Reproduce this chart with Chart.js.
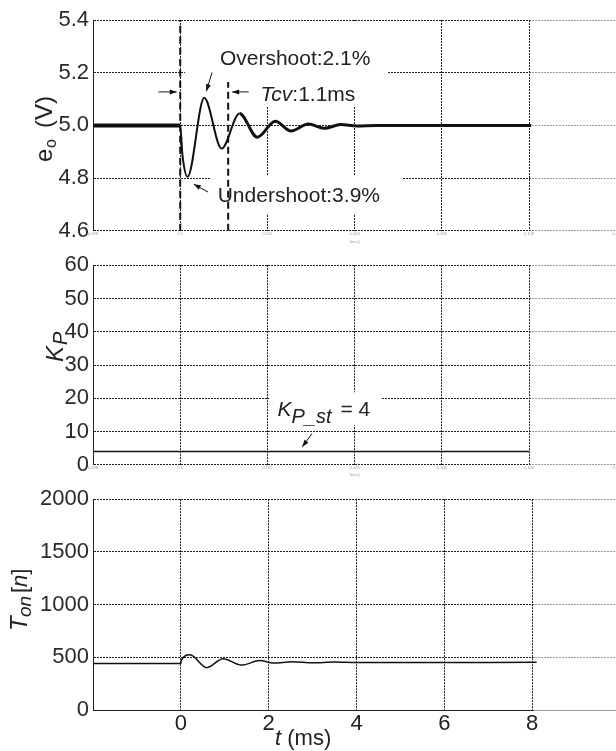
<!DOCTYPE html>
<html>
<head>
<meta charset="utf-8">
<script src="https://cdn.jsdelivr.net/npm/chart.js@4"></script>
<style>
  body { margin: 0; background: #fff; overflow: hidden; width: 616px; height: 751px; position: relative; }
  canvas { position: absolute; left: 0; }
</style>
</head>
<body>
<canvas id="eoChart" width="621" height="248" style="top:0"></canvas>
<canvas id="kpChart" width="621" height="234" style="top:248px"></canvas>
<canvas id="tonChart" width="621" height="269" style="top:482px"></canvas>
<script>
// time in ms, load step at t = 0
var tEo = [-2, 0, 0.05, 0.17, 0.55, 0.95, 1.36, 1.77, 2.18, 2.54, 2.94, 3.3, 3.68, 4.05, 4.5, 8.05];
var eoVals = [5.0, 5.0, 4.89, 4.805, 5.105, 4.912, 5.045, 4.955, 5.016, 4.979, 5.005, 4.989, 5.003, 4.998, 5.0, 5.0];

var tKp = [-2, 8];
var kpVals = [4, 4];

var tTon = [-2, 0, 0.01, 0.21, 0.59, 0.96, 1.38, 1.8, 2.1, 2.55, 3.0, 3.5, 4.0, 8.1];
var tonVals = [440, 440, 470, 524, 402, 487, 426, 469, 445, 458, 448, 455, 450, 452];

var xTicks = [-2, 0, 2, 4, 6, 8, 10];
var xTickLabels = ['', '0', '2', '4', '6', '8', ''];
var simTimeLabels = ['0.098', '0.1', '0.102', '0.104', '0.106', '0.108', '0.11'];
var eoTicks = [4.6, 4.8, 5.0, 5.2, 5.4];
var eoTickLabels = ['4.6', '4.8', '5.0', '5.2', '5.4'];
var kpTicks = [0, 10, 20, 30, 40, 50, 60];
var kpTickLabels = ['0', '10', '20', '30', '40', '50', '60'];
var tonTicks = [0, 500, 1000, 1500, 2000];
var tonTickLabels = ['0', '500', '1000', '1500', '2000'];

var F = '"Liberation Sans", Arial, Helvetica, sans-serif';
Chart.defaults.font.family = F;

function points(xs, ys) {
  return xs.map(function (x, i) { return { x: x, y: ys[i] }; });
}

function pt(chart, x, y) {
  return { x: chart.scales.x.getPixelForValue(x), y: chart.scales.y.getPixelForValue(y) };
}

function whiteBox(chart, x0, x1, y0, y1) {
  var a = pt(chart, x0, y0), b = pt(chart, x1, y1);
  chart.ctx.fillStyle = '#fff';
  chart.ctx.fillRect(Math.min(a.x, b.x), Math.min(a.y, b.y), Math.abs(b.x - a.x), Math.abs(b.y - a.y));
}

// lighter area right of the last sample (8 ms)
function fadeRight(chart, t) {
  var x = chart.scales.x.getPixelForValue(t) + 1.5;
  var a = chart.chartArea;
  chart.ctx.fillStyle = 'rgba(255,255,255,0.55)';
  chart.ctx.fillRect(x, a.top - 1, a.right - x + 2, a.bottom - a.top + 2);
}

function dashedV(chart, t, v0, v1) {
  var c = chart.ctx, a = pt(chart, t, v0), b = pt(chart, t, v1);
  c.save();
  c.strokeStyle = '#111';
  c.lineWidth = 2;
  c.setLineDash([7, 4]);
  c.beginPath();
  c.moveTo(a.x, a.y);
  c.lineTo(b.x, b.y);
  c.stroke();
  c.restore();
}

function arrow(chart, x0, y0, x1, y1) {
  var c = chart.ctx, a = pt(chart, x0, y0), b = pt(chart, x1, y1);
  var ang = Math.atan2(b.y - a.y, b.x - a.x);
  c.save();
  c.strokeStyle = '#111';
  c.fillStyle = '#111';
  c.lineWidth = 1;
  c.beginPath();
  c.moveTo(a.x, a.y);
  c.lineTo(b.x, b.y);
  c.stroke();
  c.beginPath();
  c.moveTo(b.x, b.y);
  c.lineTo(b.x - 7 * Math.cos(ang) + 2.5 * Math.sin(ang), b.y - 7 * Math.sin(ang) - 2.5 * Math.cos(ang));
  c.lineTo(b.x - 7 * Math.cos(ang) - 2.5 * Math.sin(ang), b.y - 7 * Math.sin(ang) + 2.5 * Math.cos(ang));
  c.closePath();
  c.fill();
  c.restore();
}

function runText(c, x, y, parts) {
  parts.forEach(function (p) {
    c.font = p.font;
    var px = p.at !== undefined ? p.at : x;
    c.fillText(p.text, px, y + (p.dy || 0));
    x = px + c.measureText(p.text).width;
  });
}

function rotatedTitle(c, x, y, parts) {
  c.save();
  c.translate(x, y);
  c.rotate(-Math.PI / 2);
  c.fillStyle = '#222';
  c.textBaseline = 'alphabetic';
  c.textAlign = 'left';
  runText(c, 0, 0, parts);
  c.restore();
}

function panelOptions(yMin, yMax, yTicks, yLabels, xHeight, xLabels, xFont, padTop, xBorder, xTitle) {
  return {
    responsive: false,
    animation: false,
    devicePixelRatio: 1,
    layout: { autoPadding: false, padding: { top: padTop, left: 0, right: 0, bottom: 0 } },
    plugins: { legend: { display: false }, tooltip: { enabled: false } },
    scales: {
      x: {
        type: 'linear',
        min: -2,
        max: 10,
        afterBuildTicks: function (axis) { axis.ticks = xTicks.map(function (v) { return { value: v }; }); },
        afterFit: function (axis) { axis.height = xHeight; },
        grid: { color: '#222', lineWidth: 1, drawTicks: false },
        border: { display: xBorder, color: '#222', width: 1, dash: [2, 1] },
        title: { display: !!xTitle, text: xTitle || '', font: { size: 3 }, color: '#999', padding: 0 },
        ticks: {
          autoSkip: false, maxRotation: 0, padding: 1, font: xFont,
          color: xFont.size > 10 ? '#222' : '#999',
          callback: function (v, i) { return xLabels[i]; }
        }
      },
      y: {
        min: yMin,
        max: yMax,
        afterBuildTicks: function (axis) { axis.ticks = yTicks.map(function (v) { return { value: v }; }); },
        afterFit: function (axis) { axis.width = 93; },
        grid: { color: '#222', lineWidth: 1, drawTicks: false },
        border: { display: true, color: '#222', width: 1, dash: [2, 1] },
        ticks: { padding: 4, color: '#2a2a2a', font: { size: 22 }, callback: function (v, i) { return yLabels[i]; } }
      }
    }
  };
}

var eoNotes = {
  id: 'eoNotes',
  beforeDatasetsDraw: function (chart) {
    var c = chart.ctx;
    c.save();
    fadeRight(chart, 8);
    whiteBox(chart, 0.11, 4.75, 5.175, 5.396);
    whiteBox(chart, 1.57, 4.8, 5.071, 5.176);
    whiteBox(chart, 0.7, 5.09, 4.665, 4.81);
    dashedV(chart, 0, 4.6, 5.4);
    dashedV(chart, 1.1, 4.6, 5.165);
    c.restore();
  },
  afterDatasetsDraw: function (chart) {
    var c = chart.ctx;
    c.save();
    c.fillStyle = '#222';
    c.textBaseline = 'middle';
    var p = pt(chart, 0.91, 5.25);
    runText(c, p.x, p.y, [{ text: 'Overshoot:2.1%', font: '21px ' + F }]);
    p = pt(chart, 1.84, 5.115);
    runText(c, p.x, p.y, [{ text: 'Tcv', font: 'italic 21px ' + F }, { text: ':1.1ms', font: '21px ' + F }]);
    p = pt(chart, 0.86, 4.732);
    runText(c, p.x, p.y, [{ text: 'Undershoot:3.9%', font: '21px ' + F }]);
    c.restore();
    arrow(chart, 0.73, 5.201, 0.6, 5.13);
    arrow(chart, -0.5, 5.127, -0.08, 5.127);
    arrow(chart, 1.57, 5.127, 1.19, 5.127);
    arrow(chart, 0.64, 4.747, 0.31, 4.777);
  },
  afterDraw: function (chart) {
    rotatedTitle(chart.ctx, 52, 162, [
      { text: 'e', font: '24px ' + F },
      { text: 'o', font: '16px ' + F, dy: 4, at: 14 },
      { text: '(V)', font: '24px ' + F, at: 34 }
    ]);
  }
};

var kpNotes = {
  id: 'kpNotes',
  beforeDatasetsDraw: function (chart) {
    chart.ctx.save();
    fadeRight(chart, 8);
    whiteBox(chart, 2.04, 4.61, 11.9, 21.8);
    chart.ctx.restore();
  },
  afterDatasetsDraw: function (chart) {
    var c = chart.ctx;
    c.save();
    c.fillStyle = '#222';
    c.textBaseline = 'alphabetic';
    var p = pt(chart, 2.23, 14.7);
    runText(c, p.x, p.y, [
      { text: 'K', font: 'italic 21px ' + F },
      { text: 'P_st', font: 'italic 20px ' + F, dy: 7 },
      { text: '= 4', font: '21px ' + F, at: p.x + 63 }
    ]);
    c.restore();
    arrow(chart, 3.02, 9.34, 2.8, 5.4);
  },
  afterDraw: function (chart) {
    rotatedTitle(chart.ctx, 63, 114, [
      { text: 'K', font: 'italic 24px ' + F },
      { text: 'P', font: 'italic 20px ' + F, dy: 4, at: 17 }
    ]);
  }
};

var tonNotes = {
  id: 'tonNotes',
  beforeDatasetsDraw: function (chart) {
    chart.ctx.save();
    fadeRight(chart, 8);
    chart.ctx.restore();
  },
  afterDraw: function (chart) {
    var c = chart.ctx;
    rotatedTitle(c, 27, 149, [
      { text: 'T', font: 'italic 24px ' + F },
      { text: 'on', font: 'italic 19px ' + F, dy: 4, at: 14 },
      { text: '[', font: '22px ' + F, at: 38 },
      { text: 'n', font: 'italic 22px ' + F },
      { text: ']', font: '22px ' + F }
    ]);
    c.save();
    c.fillStyle = '#222';
    c.textBaseline = 'alphabetic';
    runText(c, 275, 263, [{ text: 't', font: 'italic 22px ' + F }, { text: ' (ms)', font: '22px ' + F }]);
    c.restore();
  }
};

var tinyFont = { size: 4 };

var ctx = document.getElementById('eoChart').getContext('2d');
var eoChart = new Chart(ctx, {
  type: 'line',
  data: {
    datasets: [{
      data: points(tEo, eoVals),
      borderColor: '#111',
      borderWidth: 3,
      pointRadius: 0,
      cubicInterpolationMode: 'monotone',
      borderJoinStyle: 'round',
      segment: {
        borderWidth: function (s) { var t = s.p0.parsed.x; return t < 0 ? 4 : (t < 1.3 ? 2 : 3); }
      }
    }]
  },
  options: panelOptions(4.6, 5.4, eoTicks, eoTickLabels, 13, simTimeLabels, tinyFont, 20, false, 'Time (s)'),
  plugins: [eoNotes]
});

var ctx2 = document.getElementById('kpChart').getContext('2d');
var kpChart = new Chart(ctx2, {
  type: 'line',
  data: {
    datasets: [{
      data: points(tKp, kpVals),
      borderColor: '#111',
      borderWidth: 1.5,
      pointRadius: 0
    }]
  },
  options: panelOptions(0, 60, kpTicks, kpTickLabels, 12, simTimeLabels, tinyFont, 10, false, 'Time (s)'),
  plugins: [kpNotes]
});

var ctx3 = document.getElementById('tonChart').getContext('2d');
var tonChart = new Chart(ctx3, {
  type: 'line',
  data: {
    datasets: [{
      data: points(tTon, tonVals),
      borderColor: '#111',
      borderWidth: 1.5,
      pointRadius: 0,
      cubicInterpolationMode: 'monotone'
    }]
  },
  options: panelOptions(0, 2000, tonTicks, tonTickLabels, 41, xTickLabels, { size: 22 }, 9, true, ''),
  plugins: [tonNotes]
});
</script>
</body>
</html>
